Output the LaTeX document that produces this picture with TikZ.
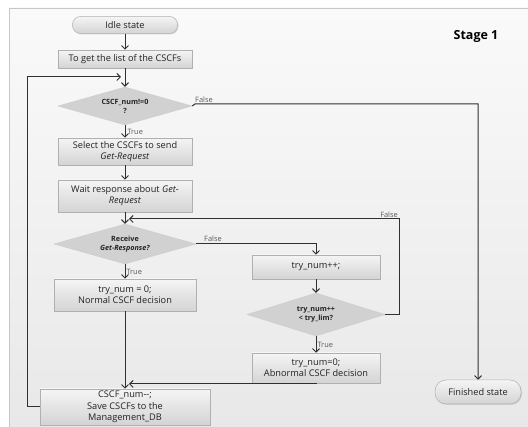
\documentclass[tikz,border=0pt]{standalone}
\usepackage{fontspec}
\setmainfont{Open Sans}
\usetikzlibrary{shapes.geometric,arrows.meta,shadows}
\definecolor{lnc}{HTML}{303030}
\definecolor{txc}{HTML}{222222}
\definecolor{bxb}{HTML}{B0B0B0}
\tikzset{
  box/.style={rectangle, draw=bxb, line width=0.5pt, top color=white!96!black, bottom color=white!83!black,
    text=txc, font=\fontsize{9.2}{11}\selectfont, align=center, inner sep=1pt,
    drop shadow={opacity=0.25, shadow xshift=1pt, shadow yshift=-1pt}},
  pill/.style={box, rounded corners=8pt},
  dia/.style={diamond, aspect=3.5, draw=white!80!black, line width=0.4pt, fill=white!82!black, inner sep=0pt,
    text=txc, font=\bfseries\fontsize{7.2}{9}\selectfont, align=center},
  conn/.style={draw=lnc, line width=1pt, -{Straight Barb[length=3.5pt,width=7pt]}},
  lbl/.style={font=\fontsize{7.4}{9}\selectfont, text=white!35!black, inner sep=1pt}
}
\begin{document}
\begin{tikzpicture}[x=1pt,y=-1pt]
\useasboundingbox (0,0) rectangle (528,427);
\fill[white] (0,0) rectangle (528,427);
\shade[top color=white!98!black, bottom color=white!91!black] (9,8) rectangle (528,427);
\draw[white!78!black, line width=0.6pt] (9,427) -- (9,8) -- (528,8);

\node[font=\bfseries\fontsize{12.5}{14}\selectfont, text=black] (stage) at (476,36) {Stage 1};

\node[pill, minimum width=105pt, minimum height=17pt] (idle) at (125,25) {Idle state};
\node[box, minimum width=134pt, minimum height=18pt] (list) at (125,59) {To get the list of the CSCFs};
\node[dia, minimum width=134pt, minimum height=38pt] (d1) at (125,106) {CSCF\_num!=0\\?};
\node[box, minimum width=134pt, minimum height=27pt] (sel) at (125,151.5) {Select the CSCFs to send\\\textit{Get-Request}};
\node[box, minimum width=134pt, minimum height=32pt] (wait) at (125,196) {Wait response about \textit{Get-}\\\textit{Request}};
\node[dia, minimum width=142pt, minimum height=40pt] (d2) at (125,244) {Receive\\\textit{Get-Response?}};
\node[box, minimum width=142pt, minimum height=32pt] (norm) at (125,295) {try\_num = 0;\\Normal CSCF decision};
\node[box, minimum width=170pt, minimum height=36pt, font=\fontsize{9.2}{11.5}\selectfont] (save) at (125,407) {CSCF\_num\mbox{-}\mbox{-};\\Save CSCFs to the\\Management\_DB};
\node[box, minimum width=128pt, minimum height=24pt] (inc) at (316,267) {try\_num++;};
\node[dia, minimum width=138pt, minimum height=43pt] (d3) at (316,314.5) {try\_num++\\< try\_lim?};
\node[box, minimum width=128pt, minimum height=30pt] (abn) at (316,368) {try\_num=0;\\Abnormal CSCF decision};
\node[pill, minimum width=86pt, minimum height=24pt, rounded corners=11pt] (fin) at (478,392) {Finished state};

\coordinate (m1) at (121,77);
\coordinate (m2) at (129,219);
\coordinate (m3) at (129,384);

\draw[conn] (idle) -- (list);
\draw[conn] (list) -- (d1);
\draw[conn] (save.west) -- (27,407) |- (m1);
\draw[conn] (d1.east) -- (195,104) -| (fin.north);
\node[lbl, anchor=south west] at (194,104) {False};
\draw[conn] (d1.south) -- (sel.north) node[lbl, midway, anchor=west, xshift=1pt] {True};
\draw[conn] (sel) -- (wait);
\draw[conn] (wait) -- (d2);
\draw[conn] (d2.east) -| (inc.north);
\node[lbl, anchor=south west] at (203,243) {False};
\draw[conn] (d2.south) -- (norm.north) node[lbl, midway, anchor=west] {True};
\draw[conn] (norm) -- (save);
\draw[conn] (inc) -- (d3);
\draw[conn] (d3.south) -- (abn.north) node[lbl, midway, anchor=west] {True};
\draw[conn] (d3.east) -- (399,314.5) |- (m2);
\node[lbl, anchor=south east] at (399,219) {False};
\draw[conn] (abn.south) |- (m3);
\end{tikzpicture}
\end{document}
